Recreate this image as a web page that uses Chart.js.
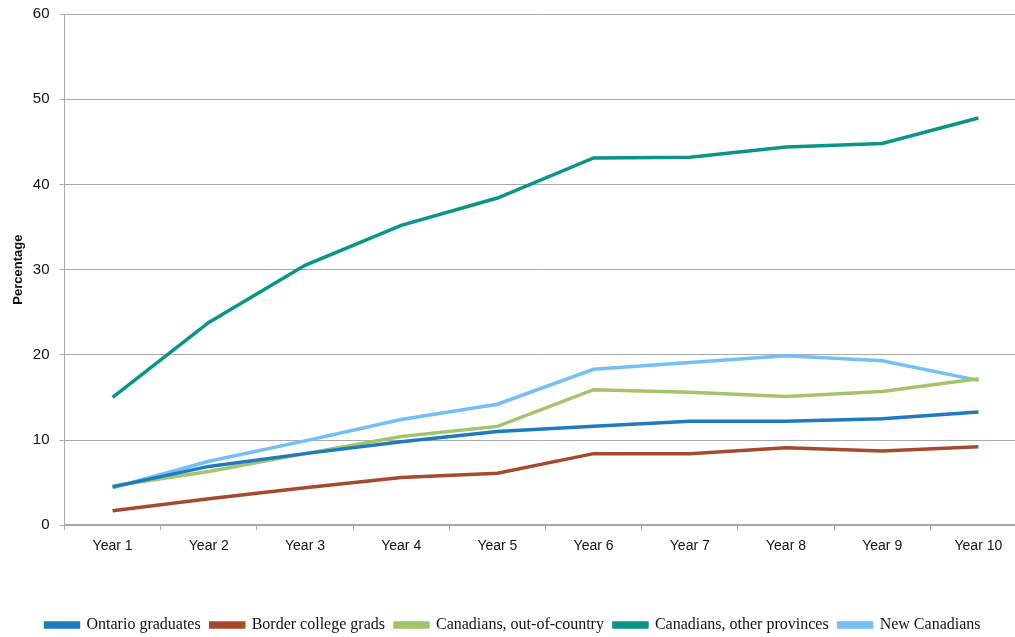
<!DOCTYPE html>
<html>
<head>
<meta charset="utf-8">
<script src="https://cdn.jsdelivr.net/npm/chart.js@4/dist/chart.umd.min.js"></script>
<style>
  html, body { margin: 0; padding: 0; background: #fff; }
  #wrap { width: 1015px; height: 637px; position: relative; }
</style>
</head>
<body>
<div id="wrap"><canvas id="grafico"></canvas></div>
<script>
var anios = ["Year 1", "Year 2", "Year 3", "Year 4", "Year 5", "Year 6", "Year 7", "Year 8", "Year 9", "Year 10"];
var ontarioGrads = [4.5, 6.9, 8.4, 9.8, 11.0, 11.6, 12.2, 12.2, 12.5, 13.3];
var borderGrads = [1.7, 3.1, 4.4, 5.6, 6.1, 8.4, 8.4, 9.1, 8.7, 9.2];
var outOfCountry = [4.6, 6.3, 8.4, 10.4, 11.6, 15.9, 15.6, 15.1, 15.7, 17.2];
var otherProvinces = [15.0, 23.8, 30.5, 35.2, 38.4, 43.1, 43.2, 44.4, 44.8, 47.8];
var newCanadians = [4.4, 7.5, 9.9, 12.4, 14.2, 18.3, 19.1, 19.9, 19.3, 17.0];
var ticksY = [0, 10, 20, 30, 40, 50, 60];

var gris = "#a8a8a8";
var anchoCategoria = 96.2;

function serie(nombre, datos, color) {
    return {
        label: nombre,
        data: datos,
        borderColor: color,
        backgroundColor: color,
        borderWidth: 3.5,
        pointRadius: 0,
        tension: 0,
        fill: false
    };
}

// baja la leyenda y deja que el eje x siga mas alla del borde derecho
var ajustes = {
    id: "ajustes",
    afterLayout: function (chart) {
        chart.legend.top += 6;
        chart.legend.bottom += 6;
        var x = chart.scales.x;
        var derecha = x.left + anchoCategoria * anios.length;
        if (derecha > x.right) {
            x.right = derecha;
            x.width = derecha - x.left;
            x.configure();
            chart.chartArea.right = derecha;
            chart.chartArea.width = derecha - chart.chartArea.left;
        }
    }
};

var ctx = document.getElementById("grafico").getContext("2d");
var grafico = new Chart(ctx, {
    type: "line",
    data: {
        labels: anios,
        datasets: [
            serie("Ontario graduates", ontarioGrads, "#1f7bc0"),
            serie("Border college grads", borderGrads, "#a54b2d"),
            serie("Canadians, out-of-country", outOfCountry, "#a4c46b"),
            serie("Canadians, other provinces", otherProvinces, "#0b9488"),
            serie("New Canadians", newCanadians, "#74bff5")
        ]
    },
    plugins: [ajustes],
    options: {
        responsive: true,
        maintainAspectRatio: false,
        animation: false,
        layout: { autoPadding: false, padding: { top: 14, right: 0, bottom: 0, left: 11 } },
        plugins: {
            tooltip: { enabled: false },
            legend: {
                position: "bottom",
                labels: {
                    boxWidth: 33,
                    boxHeight: 4,
                    padding: 10,
                    color: "#111",
                    font: { family: "'Liberation Serif', 'Times New Roman', serif", size: 16 }
                }
            }
        },
        scales: {
            x: {
                offset: true,
                afterFit: function (eje) { eje.height += 38; },
                grid: {
                    display: true,
                    drawOnChartArea: false,
                    color: gris,
                    tickLength: 5,
                    offset: true
                },
                border: { color: gris, width: 1.5 },
                ticks: {
                    color: "#111",
                    padding: 8,
                    maxRotation: 0,
                    font: { family: "'Liberation Sans', Arial, sans-serif", size: 14 }
                }
            },
            y: {
                min: 0,
                max: 60,
                afterBuildTicks: function (eje) {
                    eje.ticks = ticksY.map(function (v) { return { value: v }; });
                },
                afterFit: function (eje) { eje.width = 53.5; },
                grid: { color: gris, lineWidth: 1, tickLength: 5 },
                border: { color: gris, width: 1 },
                ticks: {
                    color: "#111",
                    padding: 10,
                    font: { family: "'Liberation Sans', Arial, sans-serif", size: 15, lineHeight: "8px" }
                },
                title: {
                    display: true,
                    text: "Percentage",
                    color: "#111",
                    padding: { top: 0, bottom: 0 },
                    font: { family: "'Liberation Sans', Arial, sans-serif", size: 13, weight: "bold" }
                }
            }
        }
    }
});
</script>
</body>
</html>
